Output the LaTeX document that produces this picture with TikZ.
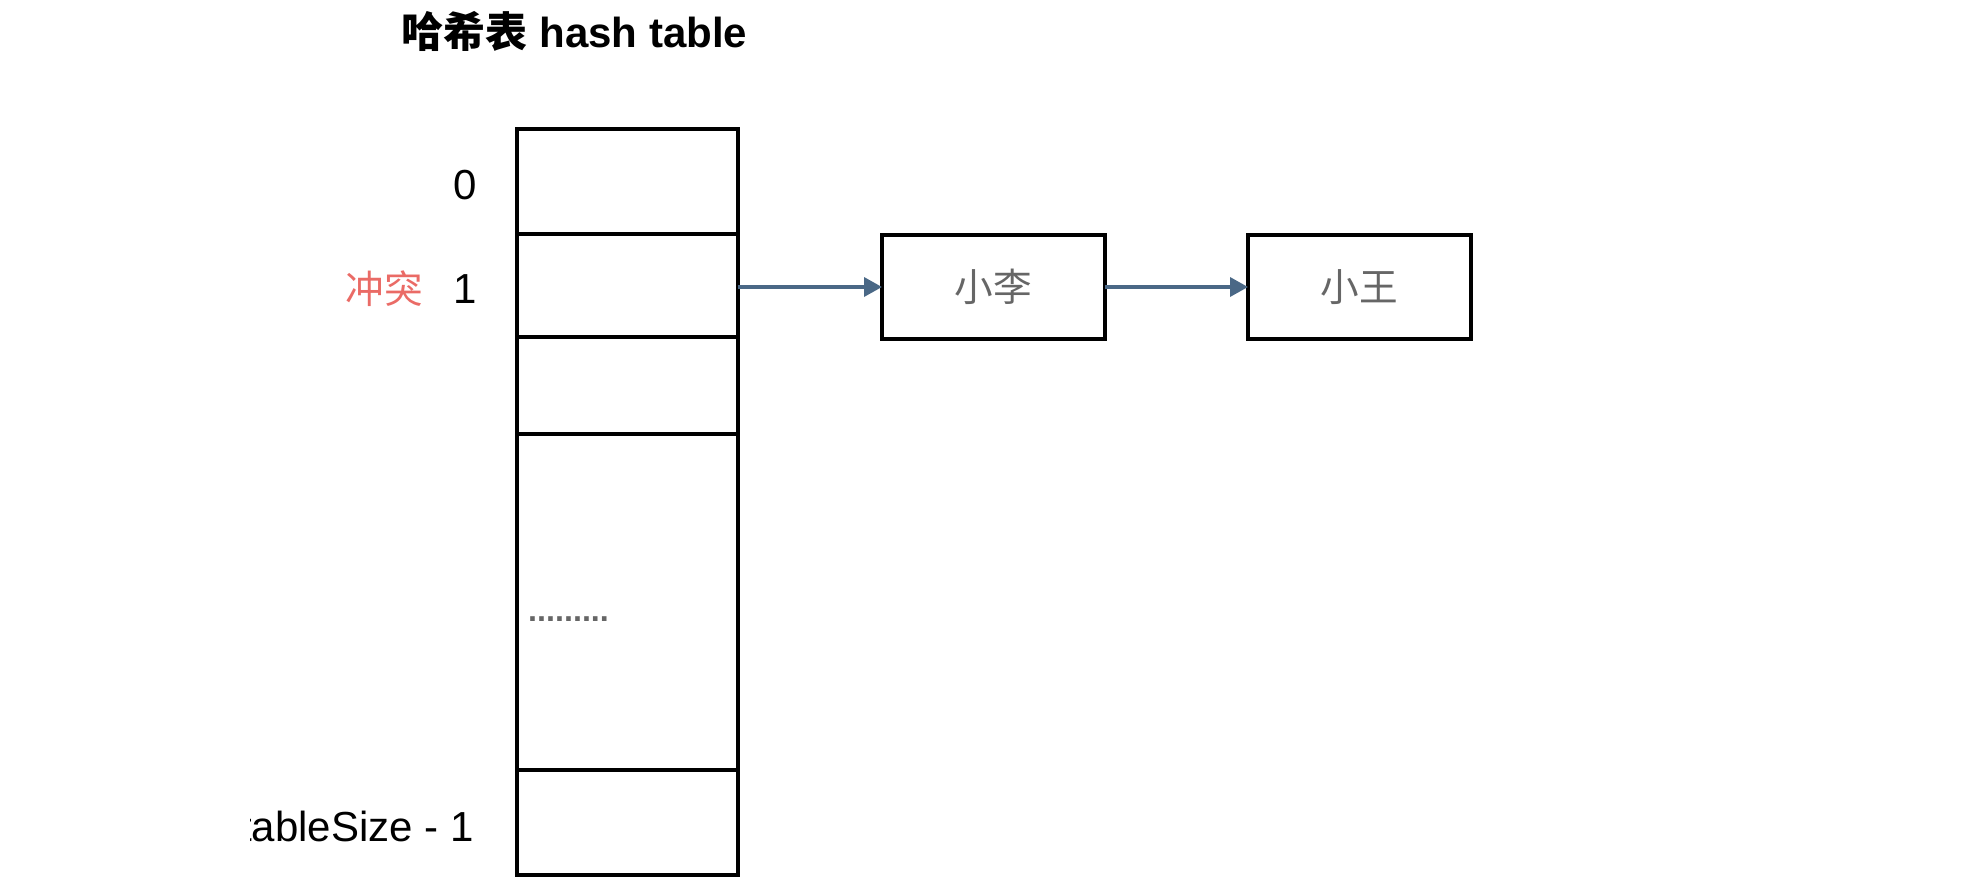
\documentclass[tikz,border=0pt]{standalone}
\usepackage{fontspec}
\setmainfont{Liberation Sans}
\newfontfamily\cjk{Noto Sans CJK SC}
\usetikzlibrary{arrows.meta}
\definecolor{arrowblue}{HTML}{4A6886}
\definecolor{clashred}{HTML}{EA6B66}
\definecolor{textgray}{HTML}{666666}
\tikzset{
  cell/.style={draw=black, line width=0.085cm, inner sep=0pt, outer sep=0pt,
    anchor=north west, minimum width=4.42cm},
  listbox/.style={draw=black, line width=0.085cm, inner sep=0pt, outer sep=0pt,
    minimum width=4.46cm, minimum height=2.08cm, text=textgray,
    font=\cjk\fontsize{22}{26}\selectfont},
  idx/.style={inner sep=0pt, font=\fontsize{23.9}{28}\selectfont},
  arr/.style={draw=arrowblue, line width=0.07cm,
    -{Triangle[length=0.36cm, width=0.38cm]}}
}
\begin{document}
\begin{tikzpicture}[x=0.02cm, y=-0.02cm]
\useasboundingbox (0,0) rectangle (1972,879);
% title
\node[inner sep=0pt, anchor=base, font=\fontsize{23.9}{28}\selectfont\bfseries] (title) at (574.5,48)
  {{\cjk\bfseries 哈希表} hash table};
% table cells
\node[cell, minimum height=2.10cm] (c0) at (517,129) {};
\node[cell, minimum height=2.06cm] (c1) at (517,234) {};
\node[cell, minimum height=1.94cm] (c2) at (517,337) {};
\node[cell, minimum height=6.72cm] (c3) at (517,434) {};
\node[cell, minimum height=2.10cm] (c4) at (517,770) {};
% index labels
\node[idx] (l0) at (465,185) {0};
\node[idx] (l1) at (465,289) {1};
\node[idx, text=clashred, font=\cjk\fontsize{22}{26}\selectfont] (clash) at (384,289) {冲突};
\begin{scope}
  \clip (250,0) rectangle (1972,879);
  \node[idx, anchor=east] (ln) at (474,826) {tableSize - 1};
\end{scope}
\node[inner sep=0pt, text=textgray, font=\fontsize{18.4}{22}\selectfont\bfseries] (dots) at (568.5,619) {.........};
% list boxes
\node[listbox] (li) at (993.5,287) {小李};
\node[listbox] (wang) at (1359.5,287) {小王};
% arrows
\draw[arr] (li.west -| c1.east) -- (li.west);
\draw[arr] (li.east) -- (wang.west);
\end{tikzpicture}
\end{document}
